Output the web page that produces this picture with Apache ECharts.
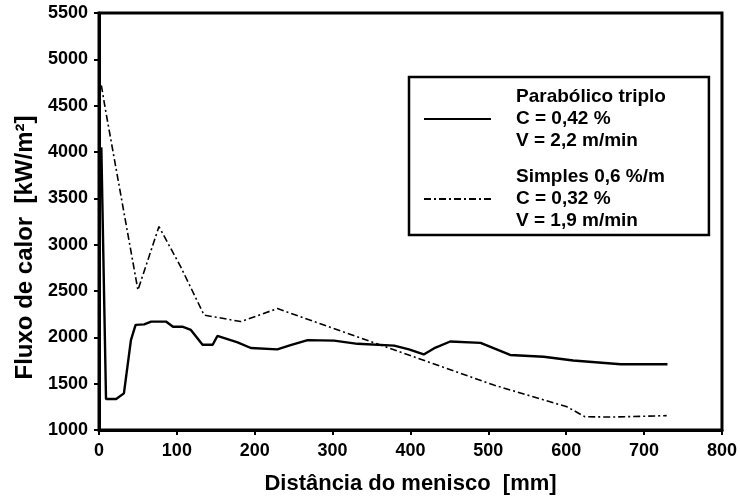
<!DOCTYPE html>
<html>
<head>
<meta charset="utf-8">
<script src="https://cdn.jsdelivr.net/npm/echarts@6/dist/echarts.min.js"></script>
<style>html,body{margin:0;padding:0;background:#fff}#c{width:740px;height:501px}</style>
</head>
<body>
<div id="c"></div>
<script>
const xTicks = [0, 100, 200, 300, 400, 500, 600, 700, 800];
const yTicks = [1000, 1500, 2000, 2500, 3000, 3500, 4000, 4500, 5000, 5500];
const seriesNames = ['Parabólico triplo', 'Simples 0,6 %/m'];
const legendLines = [
  ['Parabólico triplo', 'C = 0,42 %', 'V = 2,2 m/min'],
  ['Simples 0,6 %/m', 'C = 0,32 %', 'V = 1,9 m/min']
];
// Parabólico triplo (solid)
const triploX = [3, 9, 22, 32, 41, 47, 58, 67, 86, 95, 107, 118, 133, 146, 152, 178, 195, 229, 246, 268, 302, 332, 379, 398, 417, 430, 451, 490, 528, 571, 609, 670, 730];
const triploY = [4050, 1335, 1335, 1395, 1970, 2135, 2140, 2170, 2170, 2115, 2115, 2080, 1920, 1920, 2015, 1945, 1885, 1870, 1915, 1970, 1965, 1930, 1910, 1870, 1815, 1880, 1955, 1940, 1810, 1790, 1750, 1710, 1710];
// Simples 0,6 %/m (dash-dot)
const simplesX = [3, 8, 50, 77, 105, 135, 182, 229, 374, 507, 601, 624, 661, 729];
const simplesY = [4720, 4470, 2510, 3195, 2760, 2240, 2170, 2310, 1880, 1485, 1250, 1143, 1140, 1155];

const zip = (xs, ys) => xs.map((x, i) => [x, ys[i]]);
const font = 'Liberation Sans, Arial, sans-serif';

const chart = echarts.init(document.getElementById('c'));
chart.setOption({
  animation: false,
  backgroundColor: '#fff',
  grid: { left: 99, right: 17, top: 13, bottom: 71, show: true, borderColor: '#000', borderWidth: 3, containLabel: false },
  xAxis: {
    type: 'value', min: xTicks[0], max: xTicks[xTicks.length - 1], interval: 100,
    name: 'Distância do menisco  [mm]', nameLocation: 'middle', nameGap: 43,
    nameTextStyle: { fontFamily: font, fontWeight: 'bold', fontSize: 22, color: '#000' },
    axisLine: { show: true, lineStyle: { color: '#000', width: 3 } },
    axisTick: { show: true, inside: false, length: 5, lineStyle: { color: '#000', width: 2 } },
    axisLabel: { fontFamily: font, fontWeight: 'bold', fontSize: 18, color: '#000', margin: 12,
      formatter: v => String(v) },
    splitLine: { show: false }
  },
  yAxis: {
    type: 'value', min: yTicks[0], max: yTicks[yTicks.length - 1], interval: 500,
    name: 'Fluxo de calor  [kW/m²]', nameLocation: 'middle', nameGap: 56, nameRotate: 90,
    nameTextStyle: { fontFamily: font, fontWeight: 'bold', fontSize: 24, color: '#000', padding: [0, 52, 0, 0] },
    axisLine: { show: true, lineStyle: { color: '#000', width: 3 } },
    axisTick: { show: true, inside: false, length: 5, lineStyle: { color: '#000', width: 2 } },
    axisLabel: { fontFamily: font, fontWeight: 'bold', fontSize: 18, color: '#000', margin: 11,
      formatter: v => String(v) },
    splitLine: { show: false }
  },
  legend: {
    orient: 'vertical', left: 409, top: 77,
    data: seriesNames,
    itemWidth: 67, itemHeight: 14, itemGap: 14,
    padding: [9, 43, 3, 14],
    borderColor: '#000', borderWidth: 2.5,
    itemStyle: { opacity: 0 },
    formatter: name => legendLines[seriesNames.indexOf(name)].join('\n'),
    textStyle: { fontFamily: font, fontWeight: 'bold', fontSize: 19, lineHeight: 22, color: '#000', padding: [0, 0, 0, 20] }
  },
  series: [
    { name: seriesNames[0], type: 'line', data: zip(triploX, triploY), symbol: 'none', color: '#000',
      lineStyle: { color: '#000', width: 2.4, type: 'solid' } },
    { name: seriesNames[1], type: 'line', data: zip(simplesX, simplesY), symbol: 'none', color: '#000',
      lineStyle: { color: '#000', width: 1.6, type: [7, 3, 2, 3] } }
  ]
});
</script>
</body>
</html>
